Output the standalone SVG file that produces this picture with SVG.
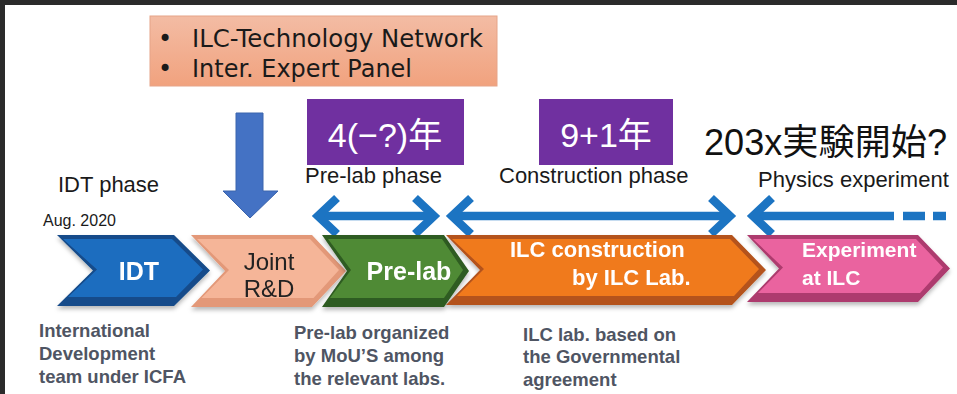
<svg xmlns="http://www.w3.org/2000/svg" width="957" height="394" viewBox="0 0 957 394">
<defs>
<style>
.sans{font-family:"Liberation Sans",Arial,"Noto Sans CJK JP",sans-serif}
.top{font-family:"DejaVu Sans","Liberation Sans",sans-serif;font-size:24px;fill:#1a1a1a}
.phase{font-family:"Liberation Sans",Arial,sans-serif;font-size:22px;fill:#1a1a1a}
.yr{font-family:"Liberation Sans",Arial,"Noto Sans CJK JP",sans-serif;font-size:34px;fill:#ffffff}
.cw{font-family:"Liberation Sans",Arial,sans-serif;font-weight:bold;fill:#ffffff}
.desc{font-family:"Liberation Sans",Arial,sans-serif;font-weight:bold;font-size:18.5px;fill:#4f5563}
.arr{fill:none;stroke:#1c74c2;stroke-width:8.5}
</style>
<linearGradient id="peach" x1="0" y1="0" x2="0" y2="1">
<stop offset="0" stop-color="#f3bca4"/>
<stop offset="1" stop-color="#f1a27e"/>
</linearGradient>
<filter id="sh" x="-10%" y="-10%" width="120%" height="130%">
<feDropShadow dx="0" dy="3" stdDeviation="2" flood-color="#000" flood-opacity="0.28"/>
</filter>
</defs>
<rect x="0" y="0" width="957" height="394" fill="#2b2b2b"/>
<rect x="5" y="5" width="952" height="389" fill="#ffffff"/>

<g id="expert-box">
<rect x="150" y="16" width="347" height="70" fill="url(#peach)" stroke="#e6a488" stroke-width="1"/>
<text class="top" x="158" y="47">•</text>
<text class="top" x="192" y="47" textLength="291" lengthAdjust="spacingAndGlyphs">ILC-Technology Network</text>
<text class="top" x="158" y="77">•</text>
<text class="top" x="192" y="77" textLength="220" lengthAdjust="spacingAndGlyphs">Inter. Expert Panel</text>
</g>

<g id="down-arrow">
<polygon points="236,113 263,113 263,191 278,191 250,218 223,191 236,191" fill="#4472c4" stroke="#3b64ad" stroke-width="1"/>
</g>

<g id="prelab-years">
<rect x="307" y="99" width="157" height="66" fill="#7030a0"/>
<text class="yr" x="385" y="147" text-anchor="middle">4(−?)年</text>
</g>
<g id="construction-years">
<rect x="539" y="99" width="134" height="66" fill="#7030a0"/>
<text class="yr" x="606" y="147" text-anchor="middle">9+1年</text>
</g>
<g id="start-label">
<text class="sans" x="704" y="155" font-size="36" fill="#111111" textLength="243" lengthAdjust="spacingAndGlyphs">203x実験開始?</text>
</g>

<g id="phase-labels">
<text class="phase" x="58" y="192">IDT phase</text>
<text class="phase" x="43" y="226" style="font-size:16px">Aug. 2020</text>
<text class="phase" x="305" y="183">Pre-lab phase</text>
<text class="phase" x="499" y="183">Construction phase</text>
<text class="phase" x="758" y="187">Physics experiment</text>
</g>

<g id="connectors">
<line class="arr" x1="318" y1="216" x2="434" y2="216"/>
<polyline class="arr" points="337,198 318,216 337,234"/>
<polyline class="arr" points="415,198 434,216 415,234"/>
<line class="arr" x1="452" y1="216" x2="730" y2="216"/>
<polyline class="arr" points="471,198 452,216 471,234"/>
<polyline class="arr" points="711,198 730,216 711,234"/>
<line class="arr" x1="753" y1="216" x2="894" y2="216"/>
<polyline class="arr" points="772,198 753,216 772,234"/>
<line class="arr" x1="903" y1="216" x2="925" y2="216"/>
<line class="arr" x1="933" y1="216" x2="946" y2="216"/>
</g>

<g id="idt" filter="url(#sh)">
<polygon points="57,235 174,235 210,270.5 174,306 57,306 93,270.5" fill="#134b8a"/>
<polygon points="63,239 172,239 203,269.5 176,297 68,297 97,269.5" fill="#1f6dbf"/>
<text class="cw" x="139" y="280" font-size="25" text-anchor="middle">IDT</text>
</g>

<g id="joint-rd" filter="url(#sh)">
<polygon points="191,235 312,235 346,271 312,307 191,307 225,271" fill="#e39878"/>
<polygon points="197,239 310,239 339,270 313.5,298 201.5,298 229,270" fill="#f5b598"/>
<text class="sans" x="269" y="270" font-size="24" fill="#222222" text-anchor="middle">Joint</text>
<text class="sans" x="269" y="297" font-size="24" fill="#222222" text-anchor="middle">R&amp;D</text>
</g>

<g id="prelab" filter="url(#sh)">
<polygon points="322,235 444,235 469,271 444,307 322,307 347,271" fill="#2f5c20"/>
<polygon points="328,239 442,239 463,270 444,298 330,298 351,270" fill="#4f8a35"/>
<text class="cw" x="409" y="280" font-size="25" text-anchor="middle">Pre-lab</text>
</g>

<g id="ilc-construction" filter="url(#sh)">
<polygon points="446,235 732,235 766,270 732,305 446,305 480,270" fill="#b4521a"/>
<polygon points="452,239 730,239 759,269 734,296 457,296 484,269" fill="#f07a1f"/>
<text class="cw" x="510" y="257" font-size="22">ILC construction</text>
<text class="cw" x="572" y="285" font-size="22">by ILC Lab.</text>
</g>

<g id="experiment" filter="url(#sh)">
<polygon points="747,235 918,235 950,268.5 918,302 747,302 779,268.5" fill="#ad3b6e"/>
<polygon points="753,239 916,239 943,267.5 920,293 758,293 783,267.5" fill="#ea649f"/>
<text class="cw" x="802" y="257" font-size="21">Experiment</text>
<text class="cw" x="802" y="285" font-size="21">at ILC</text>
</g>

<g id="descriptions">
<text class="desc" x="39" y="337">International</text>
<text class="desc" x="39" y="360">Development</text>
<text class="desc" x="39" y="383">team under ICFA</text>
<text class="desc" x="294" y="339">Pre-lab organized</text>
<text class="desc" x="294" y="362">by MoU’S among</text>
<text class="desc" x="294" y="385">the relevant labs.</text>
<text class="desc" x="523" y="341">ILC lab. based on</text>
<text class="desc" x="523" y="363">the Governmental</text>
<text class="desc" x="523" y="386">agreement</text>
</g>
</svg>
